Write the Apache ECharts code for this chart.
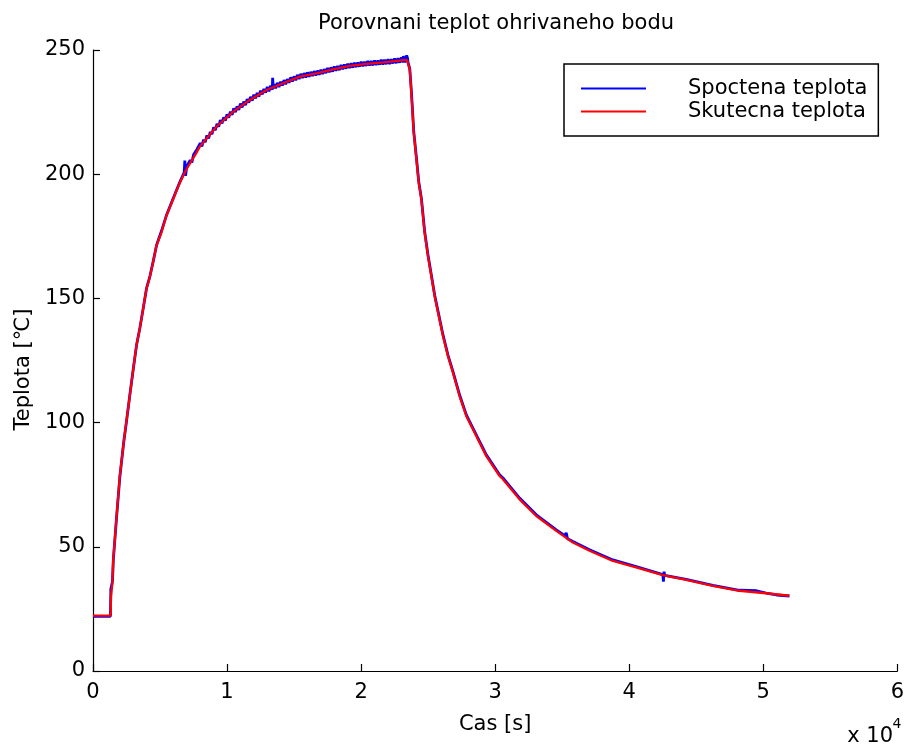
<!DOCTYPE html>
<html>
<head>
<meta charset="utf-8">
<script src="https://cdn.jsdelivr.net/npm/echarts@6/dist/echarts.min.js"></script>
<style>html,body{margin:0;padding:0;background:#fff;}#c{width:907px;height:747px;}</style>
</head>
<body>
<div id="c"></div>
<script>
// Time in seconds, temperature in deg C
const xTicks = [0, 1, 2, 3, 4, 5, 6];          // x 10^4 s
const yTicks = [0, 50, 100, 150, 200, 250];

const redTime = [0, 1320, 1340, 1440, 1500, 1740, 1990, 2290, 2480, 2740, 2980, 3230, 3480, 3730, 3970, 4230, 4470, 4720, 5090, 5460, 5960, 6460, 6950, 7700, 7970, 9220, 10460, 11700, 12950, 14180, 15430, 16670, 17910, 19150, 20400, 21640, 22880, 23430, 23500, 23630, 23750, 23930, 24130, 24300, 24500, 24740, 24990, 25240, 25490, 25740, 26110, 26480, 26850, 27350, 27850, 28340, 29090, 29340, 30330, 30580, 31820, 33070, 34560, 35800, 37040, 38780, 40520, 42510, 44250, 46240, 48220, 50210, 51950];
const redTemp = [22.3, 22.3, 30, 35, 44, 61, 78, 92, 100, 110.6, 120.7, 130.7, 137.5, 145.5, 153.5, 158.4, 164.4, 171, 176.3, 183, 189.7, 196.4, 201.8, 208.5, 211.1, 219.2, 225.2, 229.9, 233.9, 236.6, 239.3, 240.6, 242.2, 243.6, 244.4, 245.0, 245.7, 246.0, 245.3, 242, 232.6, 216.5, 205.8, 196.4, 189.7, 176.3, 166.9, 158.9, 150.8, 144.2, 134.8, 126.7, 120.1, 110.6, 102.6, 97.3, 89.2, 86.5, 78.5, 77.2, 69.1, 62.4, 56.4, 51.7, 48.4, 44.3, 41.7, 38.6, 36.7, 34.3, 32.3, 31.3, 30.3];

// Spoctena teplota: start and rise
const blueRiseTime = [0, 1300, 1330, 1450, 1520, 1760, 2010, 2300, 2500, 2750, 3000, 3250, 3500, 3750, 4000, 4250, 4500, 4750, 5100, 5500, 6000, 6500, 6800, 6850, 6900];
const blueRiseTemp = [22.0, 22.0, 33, 36, 45, 62, 78.5, 92.5, 100.5, 111.2, 121.4, 131.2, 138.2, 146.1, 154.2, 159.0, 165.1, 171.6, 177.0, 183.8, 190.5, 197.1, 200.6, 205.5, 199.4];
// Spoctena teplota: noisy plateau
const bluePlateauTime = [7000, 7125, 7250, 7375, 7500, 7625, 7750, 7875, 8000, 8125, 8250, 8375, 8500, 8625, 8750, 8875, 9000, 9125, 9250, 9375, 9500, 9625, 9750, 9875,
  10000, 10125, 10250, 10375, 10500, 10625, 10750, 10875, 11000, 11125, 11250, 11375, 11500, 11625, 11750, 11875, 12000, 12125, 12250, 12375, 12500, 12625, 12750, 12875,
  13000, 13125, 13250, 13375, 13400, 13450, 13500, 13625, 13750, 13875, 14000, 14125, 14250, 14375, 14500, 14625, 14750, 14875, 15000, 15125, 15250, 15375, 15500, 15625, 15750, 15875,
  16000, 16125, 16250, 16375, 16500, 16625, 16750, 16875, 17000, 17125, 17250, 17375, 17500, 17625, 17750, 17875, 18000, 18125, 18250, 18375, 18500, 18625, 18750, 18875,
  19000, 19125, 19250, 19375, 19500, 19625, 19750, 19875, 20000, 20125, 20250, 20375, 20500, 20625, 20750, 20875, 21000, 21125, 21250, 21375, 21500, 21625, 21750, 21875,
  22000, 22125, 22250, 22375, 22500, 22625, 22750, 22875, 23000, 23125, 23150, 23250, 23400, 23470];
const bluePlateauTemp = [203.2, 202.5, 205.6, 204.7, 207.8, 207.0, 210.0, 209.3, 212.5, 211.2, 213.9, 212.9, 215.6, 214.4, 217.0, 216.1, 218.9, 217.7, 220.3, 219.1, 221.8, 220.5, 222.9, 221.6,
  224.1, 222.8, 225.2, 223.9, 226.5, 225.0, 227.3, 225.9, 228.4, 226.9, 229.2, 227.8, 230.2, 228.8, 231.1, 229.6, 232.0, 230.5, 232.7, 231.2, 233.6, 232.1, 234.3, 232.8,
  235.1, 233.4, 235.6, 234.0, 238.8, 234.5, 236.2, 234.6, 236.8, 235.1, 237.2, 235.7, 237.9, 236.2, 238.3, 236.8, 239.0, 237.3, 239.4, 237.8, 240.0, 238.3, 240.4, 238.7, 240.7, 238.9,
  241.0, 239.2, 241.2, 239.5, 241.5, 239.7, 241.7, 240.0, 242.1, 240.3, 242.3, 240.7, 242.8, 241.0, 243.0, 241.3, 243.4, 241.6, 243.6, 241.9, 244.0, 242.2, 244.2, 242.5,
  244.5, 242.7, 244.7, 242.9, 244.9, 243.1, 245.0, 243.3, 245.3, 243.4, 245.3, 243.6, 245.6, 243.7, 245.6, 243.8, 245.8, 243.9, 245.8, 244.1, 246.1, 244.2, 246.1, 244.3,
  246.3, 244.4, 246.3, 244.6, 246.6, 244.7, 246.7, 244.9, 247.0, 245.0, 247.6, 245.0, 247.8, 246.5];
// Spoctena teplota: cooling
const blueFallTime = [23500, 23630, 23750, 23930, 24130, 24300, 24500, 24740, 24990, 25240, 25490, 25740, 26110, 26480, 26850, 27350, 27850, 28340, 29090, 29340, 30330, 30580, 31820, 33070, 34560,
  35200, 35300, 35400, 35800, 37040, 38780, 40520, 42510, 42550, 42600, 42650, 44250, 46240, 48220, 49500, 50210, 51000, 51950];
const blueFallTemp = [245.0, 242.5, 233.5, 217.0, 206.5, 197.0, 190.2, 177.0, 167.5, 159.4, 151.3, 144.8, 135.3, 127.2, 120.6, 111.1, 103.1, 97.8, 89.7, 87.0, 79.0, 77.7, 69.6, 62.9, 56.8,
  54.5, 55.6, 53.2, 52.1, 48.8, 44.7, 42.0, 38.8, 36.0, 40.0, 38.5, 36.9, 34.5, 32.5, 32.3, 31.4, 30.6, 30.2];

const blueTime = blueRiseTime.concat(bluePlateauTime, blueFallTime);
const blueTemp = blueRiseTemp.concat(bluePlateauTemp, blueFallTemp);

const seriesNames = ['Spoctena teplota', 'Skutecna teplota'];
const FONT = 'DejaVu Sans';

const chart = echarts.init(document.getElementById('c'), null, {renderer: 'canvas'});
chart.setOption({
  animation: false,
  backgroundColor: '#fff',
  title: {
    text: 'Porovnani teplot ohrivaneho bodu',
    left: 318,
    top: 13,
    padding: 0,
    textStyle: {fontFamily: FONT, fontSize: 21, fontWeight: 'normal', color: '#000'}
  },
  legend: {
    orient: 'vertical',
    left: 564,
    top: 64,
    padding: [13, 11, 13, 17],
    itemGap: 0,
    itemWidth: 65,
    itemHeight: 2,
    icon: 'rect',
    borderColor: '#000',
    borderWidth: 1.5,
    backgroundColor: '#fff',
    data: seriesNames,
    textStyle: {fontFamily: FONT, fontSize: 21, color: '#000', lineHeight: 23, padding: [0, 0, 0, 37]}
  },
  grid: {left: 93, right: 9, top: 50, bottom: 76},
  xAxis: {
    type: 'value',
    min: 0, max: 60000, interval: 10000,
    name: 'Cas [s]',
    nameLocation: 'middle',
    nameGap: 43,
    nameTextStyle: {fontFamily: FONT, fontSize: 21, color: '#000'},
    axisLine: {show: true, onZero: false, lineStyle: {color: '#000', width: 1.2}},
    axisTick: {show: true, inside: true, length: 7, lineStyle: {color: '#000', width: 1.2}},
    axisLabel: {
      fontFamily: FONT, fontSize: 21, color: '#000', margin: 11,
      formatter: v => { const k = Math.round(v / 10000); return xTicks.includes(k) ? String(k) : ''; }
    },
    splitLine: {show: false}
  },
  yAxis: {
    type: 'value',
    min: 0, max: 250, interval: 50,
    name: 'Teplota [℃]',
    nameLocation: 'middle',
    nameGap: 56,
    nameTextStyle: {fontFamily: FONT, fontSize: 21, color: '#000', padding: [0, 18, 0, 0]},
    axisLine: {show: true, onZero: false, lineStyle: {color: '#000', width: 1.2}},
    axisTick: {show: true, inside: true, length: 7, lineStyle: {color: '#000', width: 1.2}},
    axisLabel: {
      fontFamily: FONT, fontSize: 21, color: '#000', margin: 8,
      formatter: v => yTicks.includes(v) ? String(v) : ''
    },
    splitLine: {show: false}
  },
  graphic: [
    {type: 'text', x: 893, y: 737, style: {text: 'x 10', fontFamily: FONT, fontSize: 21, fill: '#000', align: 'right', verticalAlign: 'middle', textAlign: 'right', textVerticalAlign: 'middle'}},
    {type: 'text', x: 897, y: 724, style: {text: '4', fontFamily: FONT, fontSize: 14, fill: '#000', align: 'center', verticalAlign: 'middle', textAlign: 'center', textVerticalAlign: 'middle'}}
  ],
  series: [
    {
      name: seriesNames[0], type: 'line', showSymbol: false, symbol: 'none',
      data: blueTime.map((t, i) => [t, blueTemp[i]]),
      lineStyle: {color: '#0000ff', width: 2.8}, itemStyle: {color: '#0000ff'}
    },
    {
      name: seriesNames[1], type: 'line', showSymbol: false, symbol: 'none',
      data: redTime.map((t, i) => [t, redTemp[i]]),
      lineStyle: {color: '#ff0000', width: 2.3}, itemStyle: {color: '#ff0000'}
    }
  ]
});
</script>
</body>
</html>
